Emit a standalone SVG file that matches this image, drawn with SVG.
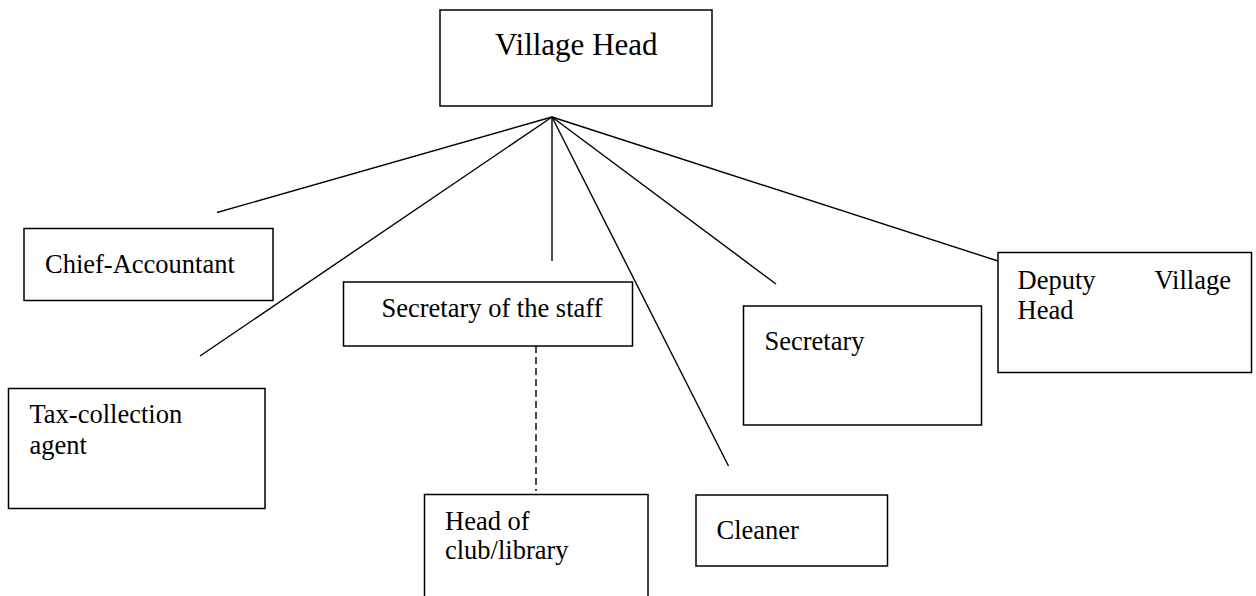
<svg xmlns="http://www.w3.org/2000/svg" width="1256" height="596" viewBox="0 0 1256 596">
<style>
.box{fill:#fff;stroke:#000;stroke-width:1.5}
.t{font-size:26.5px;fill:#000}
.big{font-size:31px}
.ln{stroke:#000;stroke-width:1.4;fill:none}
.dash{stroke-dasharray:7 4}
</style>
<rect width="1256" height="596" fill="#fff"/>
<g id="connectors">
<line class="ln" x1="552" y1="117" x2="217" y2="212.5"/>
<line class="ln" x1="552" y1="117" x2="200" y2="356"/>
<line class="ln" x1="552" y1="117" x2="552" y2="261"/>
<line class="ln" x1="552" y1="117" x2="728.5" y2="466"/>
<line class="ln" x1="552" y1="117" x2="776" y2="284"/>
<line class="ln" x1="552" y1="117" x2="998" y2="261"/>
<line class="ln dash" x1="536" y1="346" x2="536" y2="491"/>
</g>
<g font-family="'Liberation Serif', 'Times New Roman', 'DejaVu Serif', serif">
<g id="village-head">
<rect class="box" x="440" y="10" width="272" height="96"/>
<text class="t big" x="495" y="55">Village Head</text>
</g>
<g id="chief-accountant">
<rect class="box" x="24" y="228.5" width="249" height="72"/>
<text class="t" x="45" y="272.5">Chief-Accountant</text>
</g>
<g id="tax-collection">
<rect class="box" x="8.5" y="388.5" width="256.5" height="120"/>
<text class="t" x="29.5" y="422.5">Tax-collection</text>
<text class="t" x="29.5" y="454">agent</text>
</g>
<g id="secretary-staff">
<rect class="box" x="343.5" y="282" width="289" height="64"/>
<text class="t" x="381.5" y="316.5">Secretary of the staff</text>
</g>
<g id="head-club">
<rect class="box" x="424.5" y="494.5" width="223.5" height="120"/>
<text class="t" x="445" y="529.5">Head of</text>
<text class="t" x="445" y="558.5">club/library</text>
</g>
<g id="cleaner">
<rect class="box" x="696" y="495" width="191.5" height="71"/>
<text class="t" x="716.5" y="538.5">Cleaner</text>
</g>
<g id="secretary">
<rect class="box" x="743.5" y="306" width="238" height="119"/>
<text class="t" x="764.5" y="349.5">Secretary</text>
</g>
<g id="deputy">
<rect class="box" x="998" y="252.5" width="253.5" height="120"/>
<text class="t" x="1017.5" y="288.5">Deputy</text>
<text class="t" x="1231" y="288.5" text-anchor="end">Village</text>
<text class="t" x="1017.5" y="318.5">Head</text>
</g>
</g>
</svg>
